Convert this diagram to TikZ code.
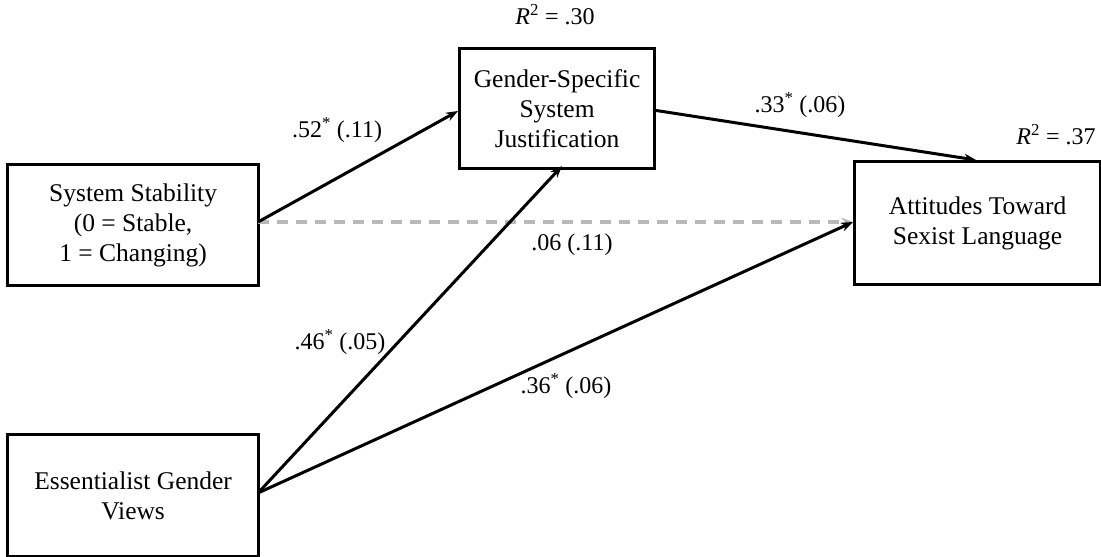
\documentclass[tikz,border=0pt]{standalone}
\usepackage{fontspec}
\setmainfont{Liberation Serif}
\usetikzlibrary{arrows.meta}
\begin{document}
\begin{tikzpicture}[x=1pt,y=-1pt,
  every node/.style={font=\fontsize{25.5}{30}\selectfont, inner sep=0pt},
  box/.style={draw, line width=3.2pt, align=center, anchor=north west},
  path/.style={line width=3pt, -{Stealth[length=12pt,width=9pt]}},
  dpath/.style={line width=3.2pt, draw=gray!55, dash pattern=on 11pt off 8pt, -{Stealth[length=12pt,width=9pt]}},
  lab/.style={font=\fontsize{24}{28}\selectfont}]
\useasboundingbox (0,0) rectangle (1101,557);
\node[box, minimum width=195pt, minimum height=120pt] (gssj) at (458,47) {Gender-Specific\\System\\Justification};
\node[box, minimum width=246pt, minimum height=123pt] (att) at (853,160) {Attitudes Toward\\Sexist Language};
\node[box, minimum width=251pt, minimum height=121pt] (ss) at (6,163) {System Stability\\(0 = Stable,\\1 = Changing)};
\node[box, minimum width=251pt, minimum height=122pt] (egv) at (6,433) {Essentialist Gender\\Views};
\node[lab] (r1) at (555,15) {\textit{R}\textsuperscript{2} = .30};
\node[lab] (r2) at (1056,135) {\textit{R}\textsuperscript{2} = .37};
\coordinate (ssr) at (258,222);
\coordinate (egvr) at (258,493);
\coordinate (gssjin) at (458,111);
\coordinate (gssjbot) at (562,166);
\coordinate (gssjout) at (653,110);
\coordinate (atttop) at (976,160);
\coordinate (attl) at (853,222);
\draw[dpath] (ssr) -- (attl);
\draw[path] (ssr) -- (gssjin);
\draw[path] (egvr) -- (gssjbot);
\draw[path] (egvr) -- (attl);
\draw[path] (gssjout) -- (atttop);
\node[lab] (l1) at (337,130) {.52\textsuperscript{*} (.11)};
\node[lab] (l2) at (800,105) {.33\textsuperscript{*} (.06)};
\node[lab] (l3) at (572,245) {.06 (.11)};
\node[lab] (l4) at (340,342) {.46\textsuperscript{*} (.05)};
\node[lab] (l5) at (566,386) {.36\textsuperscript{*} (.06)};
\end{tikzpicture}
\end{document}
